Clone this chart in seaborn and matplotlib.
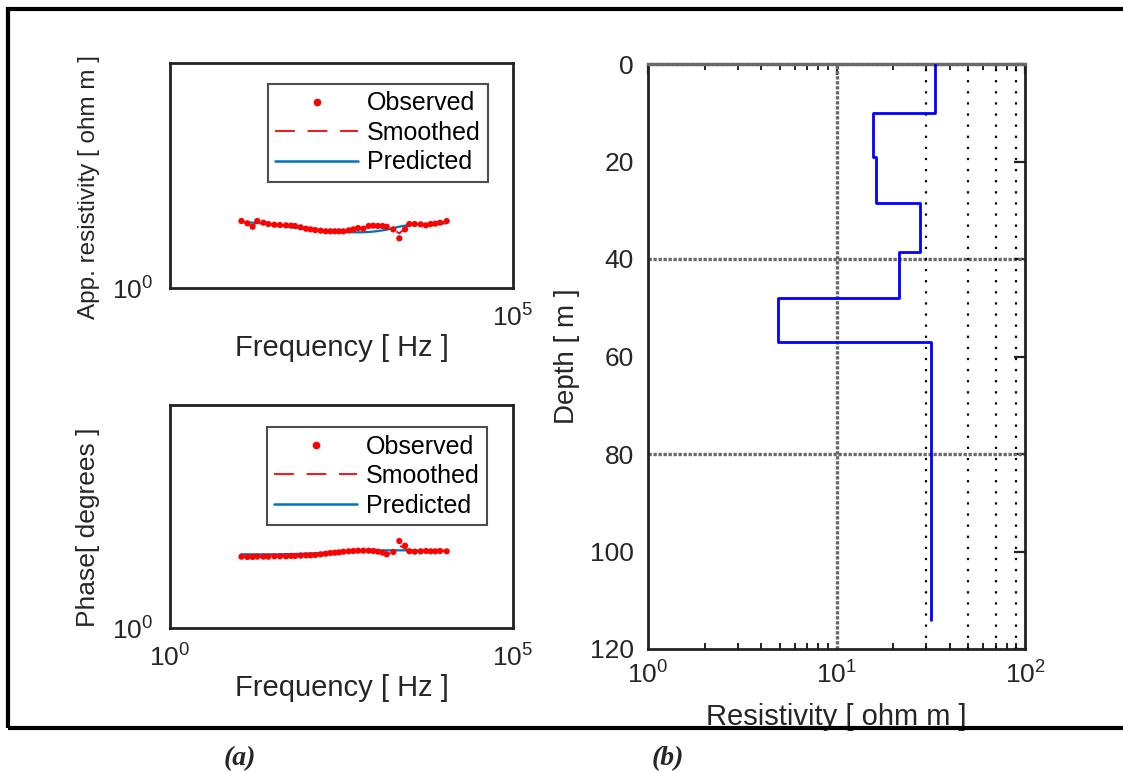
import numpy as np
import pandas as pd
import matplotlib
matplotlib.use("Agg")
import matplotlib.pyplot as plt
import seaborn as sns
from matplotlib.lines import Line2D
from matplotlib.patches import Rectangle
from matplotlib.ticker import FixedLocator, FixedFormatter, NullLocator

# ---------------- data ----------------
freq = [11.0, 13.4, 16.0, 18.7, 23.0, 27.1, 33.2, 40.1, 49.1, 58.0, 66.4, 80.3, 96.1,
        112, 131, 157, 186, 217, 252, 291, 337, 403, 470, 551, 658, 788, 920, 1076,
        1259, 1442, 1800, 2203, 2667, 3083, 3690, 4510, 5395, 6310, 7365, 8630, 10790]

rho_obs = [30.8, 27.4, 23.0, 30.8, 28.3, 26.4, 25.5, 25.1, 24.7, 24.3, 23.9, 22.3, 20.8,
           20.1, 19.4, 18.8, 18.2, 18.2, 18.2, 18.2, 18.2, 19.1, 20.1, 21.5, 20.8, 23.9,
           24.3, 23.9, 23.9, 23.0, 20.1, 12.7, 20.1, 26.4, 26.4, 26.0, 24.7, 26.4, 26.9,
           28.3, 30.8]
rho_smooth = [30.8, 27.4, 23.0, 30.8, 28.3, 26.4, 25.5, 25.1, 24.7, 24.3, 23.9, 22.3, 20.8,
              20.1, 19.4, 18.8, 18.2, 18.2, 18.2, 18.2, 18.2, 19.1, 20.1, 21.5, 20.8, 23.9,
              24.3, 23.9, 23.9, 23.0, 20.1, 16.4, 21.2, 26.4, 26.4, 26.0, 24.7, 26.4, 26.9,
              28.3, 30.8]
rho_pred = [29.3, 28.8, 28.3, 27.8, 26.9, 26.0, 25.1, 24.3, 23.5, 22.7, 21.9, 21.2, 20.5,
            19.8, 19.4, 18.8, 18.5, 18.2, 17.9, 17.6, 17.6, 17.3, 17.3, 17.3, 17.3, 17.6,
            17.9, 18.5, 19.1, 19.8, 21.5, 23.1, 24.3, 25.5, 26.0, 26.0, 26.4, 26.4, 26.9,
            26.9, 27.4]

phase_obs = [39.8, 39.1, 39.1, 39.8, 39.8, 39.8, 40.5, 40.5, 40.5, 41.2, 41.2, 41.9, 42.6,
             42.6, 43.3, 44.9, 46.4, 48.0, 48.9, 49.7, 51.5, 52.4, 53.3, 54.2, 54.2, 54.2,
             53.3, 51.5, 48.9, 44.9, 50.6, 89.3, 70.2, 52.4, 51.5, 52.4, 53.3, 52.4, 52.4,
             53.3, 52.4]
phase_smooth = [39.8, 39.1, 39.1, 39.8, 39.8, 39.8, 40.5, 40.5, 40.5, 41.2, 41.2, 41.9, 42.6,
                42.6, 43.3, 44.9, 46.4, 48.0, 48.9, 49.7, 51.5, 52.4, 53.3, 54.2, 54.2, 54.2,
                53.3, 51.5, 48.9, 44.9, 50.6, 70.2, 61.1, 52.4, 51.5, 52.4, 53.3, 52.4, 52.4,
                53.3, 52.4]
phase_pred = [44.9, 44.9, 44.9, 44.9, 44.9, 44.9, 44.9, 44.9, 45.6, 45.6, 45.6, 46.4, 46.4,
              47.2, 47.2, 48.0, 48.9, 49.7, 50.6, 50.6, 51.5, 52.4, 52.4, 53.3, 53.3, 54.2,
              54.2, 54.2, 55.1, 55.1, 55.1, 55.1, 55.1, 55.1, 55.1, 54.2, 54.2, 54.2, 54.2,
              54.2, 54.2]

layer_top = [0, 10, 19, 28.5, 38.5, 48, 57]
layer_res = [33.2, 15.7, 16.3, 27.9, 21.5, 4.9, 31.7]
model_bottom = 114

freq_ticks = [1, 1e5]
freq_ticklabels_top = ["", r"$\mathdefault{10^{5}}$"]
freq_ticklabels_bot = [r"$\mathdefault{10^{0}}$", r"$\mathdefault{10^{5}}$"]
left_yticks = [1]
left_yticklabels = [r"$\mathdefault{10^{0}}$"]
depth_ticks = [0, 20, 40, 60, 80, 100, 120]
res_ticks = [1, 10, 100]
res_ticklabels = [r"$\mathdefault{10^{0}}$", r"$\mathdefault{10^{1}}$", r"$\mathdefault{10^{2}}$"]
major_vgrid = [10]
major_hgrid = [40, 80]
minor_vgrid = [30, 50, 70, 90]
res_minor = [2, 3, 4, 5, 6, 7, 8, 9, 20, 30, 40, 50, 60, 70, 80, 90]

# ---------------- style ----------------
sns.set_theme(style="white")
plt.rcParams["font.family"] = ["Liberation Sans", "DejaVu Sans"]
plt.rcParams["mathtext.fontset"] = "custom"
plt.rcParams["mathtext.rm"] = "Liberation Sans"
plt.rcParams["mathtext.it"] = "Liberation Sans:italic"
plt.rcParams["mathtext.bf"] = "Liberation Sans:bold"

TXT = "#262626"
RED = "#FF0000"
MBLUE = "#0072BD"
DASH = (11, 7)

fig = plt.figure(figsize=(11.23, 7.72), dpi=100)
W, H = 1123, 772


def px_axes(l, t, r, b):
    return fig.add_axes([l / W, (H - b) / H, (r - l) / W, (b - t) / H])


ax1 = px_axes(170, 63, 513, 288)
ax2 = px_axes(170, 405, 513, 628)
ax3 = px_axes(648, 64, 1025, 649)

df_rho = pd.DataFrame({"f": freq, "obs": rho_obs, "smooth": rho_smooth, "pred": rho_pred})
df_ph = pd.DataFrame({"f": freq, "obs": phase_obs, "smooth": phase_smooth, "pred": phase_pred})


def left_panel(ax, df, ylabel, ylabel_size, xticklabels, legend_anchor):
    ax.set_xscale("log")
    ax.set_yscale("log")
    sns.lineplot(data=df, x="f", y="pred", ax=ax, color=MBLUE, lw=1.6,
                 estimator=None, sort=False, zorder=2)
    sns.lineplot(data=df, x="f", y="smooth", ax=ax, color=RED, lw=1.3,
                 estimator=None, sort=False, zorder=3)
    ax.lines[-1].set_dashes(DASH)
    sns.scatterplot(data=df, x="f", y="obs", ax=ax, color=RED, s=20,
                    edgecolor="none", zorder=4)
    ax.set_xlim(1, 1e5)
    ax.set_ylim(1, 1e5)
    ax.xaxis.set_major_locator(FixedLocator(freq_ticks))
    ax.xaxis.set_major_formatter(FixedFormatter(xticklabels))
    ax.xaxis.set_minor_locator(NullLocator())
    ax.yaxis.set_major_locator(FixedLocator(left_yticks))
    ax.yaxis.set_major_formatter(FixedFormatter(left_yticklabels))
    ax.yaxis.set_minor_locator(NullLocator())
    ax.tick_params(axis="both", length=0, labelsize=19, colors=TXT)
    ax.tick_params(axis="x", pad=12)
    ax.tick_params(axis="y", pad=12)
    for sp in ax.spines.values():
        sp.set_visible(True)
        sp.set_color("#222222")
        sp.set_linewidth(2)
    ax.set_xlabel("Frequency [ Hz ]", fontsize=21, color=TXT)
    ax.set_ylabel(ylabel, fontsize=ylabel_size, color=TXT)
    ax.xaxis.set_label_coords(0.5, -0.205)
    ax.yaxis.set_label_coords(-0.205, 0.45)
    handles = [
        Line2D([], [], color=RED, marker="o", ls="none", markersize=4.5),
        Line2D([], [], color=RED, lw=1.3, dashes=DASH),
        Line2D([], [], color=MBLUE, lw=1.8),
    ]
    leg = ax.legend(handles, ["Observed", "Smoothed", "Predicted"], loc="upper right",
                    bbox_to_anchor=legend_anchor, fontsize=18, frameon=True,
                    fancybox=False, edgecolor="#222222", handlelength=3.3,
                    handletextpad=0.35, labelspacing=0.22, borderpad=0.3,
                    borderaxespad=0.0)
    leg.get_frame().set_linewidth(1.5)
    for t in leg.get_texts():
        t.set_color("black")


left_panel(ax1, df_rho, "App. resistivity [ ohm m ]", 17.5, freq_ticklabels_top, (0.927, 0.907))
left_panel(ax2, df_ph, "Phase[ degrees ]", 19, freq_ticklabels_bot, (0.924, 0.901))

# ---------------- right panel: layered model ----------------
step_x, step_y = [], []
bounds = layer_top[1:] + [model_bottom]
for top, bot, r in zip(layer_top, bounds, layer_res):
    step_x += [r, r]
    step_y += [top, bot]
df_model = pd.DataFrame({"res": step_x, "depth": step_y})

ax3.set_xscale("log")
for g in major_vgrid:
    ax3.axvline(g, color="#6a6a6a", lw=2.4, ls=(0, (1, 0.5)), zorder=1)
for g in major_hgrid:
    ax3.axhline(g, color="#6a6a6a", lw=2.4, ls=(0, (1, 0.5)), zorder=1)
for g in minor_vgrid:
    ax3.axvline(g, color="black", lw=1.6, ls=(0, (1, 4)), zorder=1)
sns.lineplot(data=df_model, x="res", y="depth", ax=ax3, color="#0000FF", lw=2,
             estimator=None, sort=False, zorder=3)
ax3.set_xlim(1, 100)
ax3.set_ylim(120, 0)
ax3.xaxis.set_major_locator(FixedLocator(res_ticks))
ax3.xaxis.set_major_formatter(FixedFormatter(res_ticklabels))
ax3.xaxis.set_minor_locator(FixedLocator(res_minor))
ax3.yaxis.set_major_locator(FixedLocator(depth_ticks))
ax3.yaxis.set_minor_locator(NullLocator())
ax3.tick_params(axis="both", which="major", direction="in", length=8, width=1.6,
                labelsize=19, colors="#222222", labelcolor=TXT, top=True, right=True)
ax3.tick_params(axis="x", which="minor", direction="in", length=4, width=1.4,
                colors="#222222", top=True, bottom=True)
ax3.tick_params(axis="x", which="major", pad=9)
ax3.tick_params(axis="y", which="major", pad=10)
for name, sp in ax3.spines.items():
    sp.set_visible(True)
    sp.set_color("#222222")
    sp.set_linewidth(2)
ax3.spines["top"].set_color("#6a6a6a")
ax3.spines["top"].set_linewidth(2.4)
ax3.spines["top"].set_linestyle((0, (1, 0.5)))
ax3.set_xlabel("Resistivity [ ohm m ]", fontsize=21, color=TXT)
ax3.set_ylabel("Depth [ m ]", fontsize=20, color=TXT)
ax3.xaxis.set_label_coords(0.5, -0.093)
ax3.yaxis.set_label_coords(-0.18, 0.5)

# ---------------- frame & panel letters ----------------
fig.patches.append(Rectangle((8 / W, (H - 728) / H), 1.2, (728 - 9) / H,
                             transform=fig.transFigure, fill=False, ec="black",
                             lw=3, clip_on=False, zorder=10))
fig.text(240 / W, (H - 759) / H, "(a)", fontsize=20, family="Liberation Serif",
         style="italic", weight="bold", ha="center", va="center")
fig.text(668 / W, (H - 759) / H, "(b)", fontsize=20, family="Liberation Serif",
         style="italic", weight="bold", ha="center", va="center")

fig.savefig("out.png", dpi=100)
